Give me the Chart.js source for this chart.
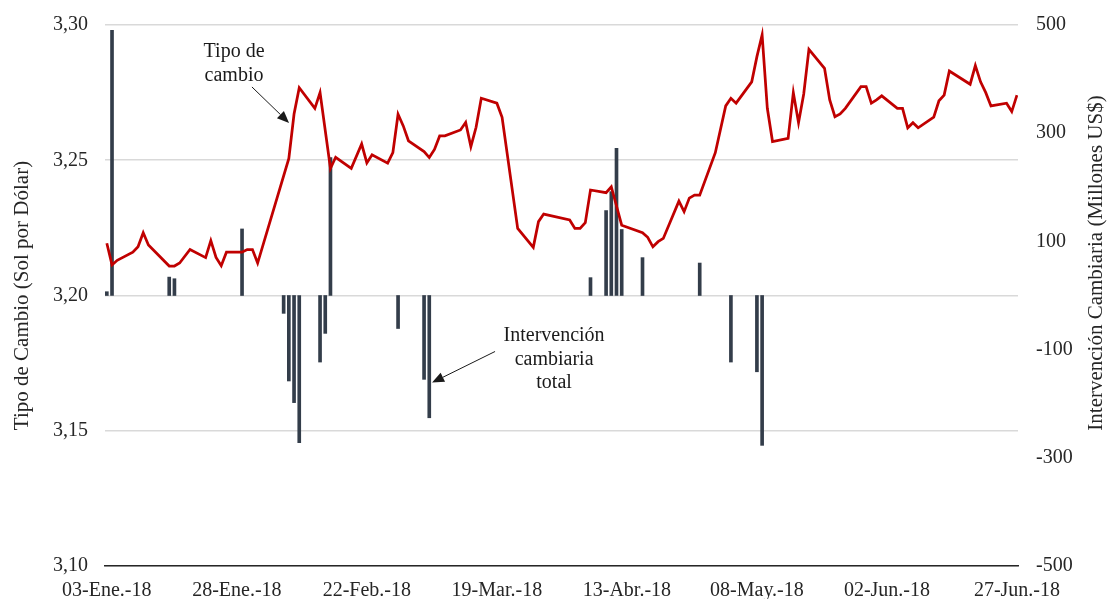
<!DOCTYPE html>
<html><head><meta charset="utf-8">
<script src="https://cdn.jsdelivr.net/npm/chart.js@4"></script>
<style>html,body{margin:0;padding:0;background:#fff}#wrap{width:1107px;height:599px;position:relative}</style>
</head><body><div id="wrap"><canvas id="c" width="1107" height="599"></canvas></div>
<script>
// --- Tipo de cambio (Sol por Dólar) ---
const fechasTC = ['2018-01-03','2018-01-04','2018-01-05','2018-01-08','2018-01-09','2018-01-10','2018-01-11','2018-01-15','2018-01-16','2018-01-17','2018-01-19','2018-01-22','2018-01-23','2018-01-24','2018-01-25','2018-01-26','2018-01-29','2018-01-30','2018-01-31','2018-02-01','2018-02-07','2018-02-08','2018-02-09','2018-02-12','2018-02-13','2018-02-15','2018-02-16','2018-02-19','2018-02-21','2018-02-22','2018-02-23','2018-02-26','2018-02-27','2018-02-28','2018-03-01','2018-03-02','2018-03-05','2018-03-06','2018-03-07','2018-03-08','2018-03-09','2018-03-12','2018-03-13','2018-03-14','2018-03-15','2018-03-16','2018-03-19','2018-03-20','2018-03-23','2018-03-26','2018-03-27','2018-03-28','2018-04-02','2018-04-03','2018-04-04','2018-04-05','2018-04-06','2018-04-09','2018-04-10','2018-04-12','2018-04-16','2018-04-17','2018-04-18','2018-04-19','2018-04-20','2018-04-23','2018-04-24','2018-04-25','2018-04-26','2018-04-27','2018-04-30','2018-05-02','2018-05-03','2018-05-04','2018-05-07','2018-05-08','2018-05-09','2018-05-10','2018-05-11','2018-05-14','2018-05-15','2018-05-16','2018-05-17','2018-05-18','2018-05-21','2018-05-22','2018-05-23','2018-05-24','2018-05-25','2018-05-28','2018-05-29','2018-05-30','2018-05-31','2018-06-01','2018-06-04','2018-06-05','2018-06-06','2018-06-07','2018-06-08','2018-06-11','2018-06-12','2018-06-13','2018-06-14','2018-06-18','2018-06-19','2018-06-20','2018-06-21','2018-06-22','2018-06-25','2018-06-26','2018-06-27'];
const tipoCambio = [3.2193,3.2113,3.2130,3.2160,3.2180,3.2232,3.2187,3.2109,3.2109,3.2120,3.2170,3.2140,3.2203,3.2141,3.2110,3.2160,3.2160,3.2170,3.2170,3.2120,3.2507,3.2671,3.2768,3.2692,3.2750,3.2470,3.2511,3.2470,3.2560,3.2490,3.2520,3.2489,3.2528,3.2670,3.2627,3.2572,3.2532,3.2510,3.2540,3.2590,3.2590,3.2612,3.2640,3.2550,3.2622,3.2729,3.2711,3.2659,3.2248,3.2178,3.2273,3.2301,3.2279,3.2248,3.2248,3.2269,3.2390,3.2380,3.2402,3.2260,3.2232,3.2215,3.2180,3.2199,3.2211,3.2349,3.2310,3.2360,3.2371,3.2371,3.2528,3.2701,3.2729,3.2711,3.2790,3.2883,3.2963,3.2692,3.2569,3.2581,3.2750,3.2639,3.2745,3.2910,3.2840,3.2723,3.2661,3.2671,3.2692,3.2772,3.2772,3.2711,3.2723,3.2738,3.2692,3.2692,3.2620,3.2639,3.2620,3.2659,3.2720,3.2741,3.2830,3.2781,3.2850,3.2790,3.2750,3.2701,3.2711,3.2680,3.2741];

// --- Intervención cambiaria total (Millones US$) ---
const fechasInt = ['2018-01-03','2018-01-04','2018-01-15','2018-01-16','2018-01-29','2018-02-06','2018-02-07','2018-02-08','2018-02-09','2018-02-13','2018-02-14','2018-02-15','2018-02-28','2018-03-05','2018-03-06','2018-04-06','2018-04-09','2018-04-10','2018-04-11','2018-04-12','2018-04-16','2018-04-27','2018-05-03','2018-05-08','2018-05-09'];
const intervencion = [7,490,34,31,123,-33,-158,-198,-272,-123,-70,255,-61,-155,-226,33,157,192,272,122,70,60,-123,-141,-277];

// --- Ejes ---
const fechasTicksX = ['2018-01-03','2018-01-28','2018-02-22','2018-03-19','2018-04-13','2018-05-08','2018-06-02','2018-06-27'];
const etiquetasX = ['03-Ene.-18','28-Ene.-18','22-Feb.-18','19-Mar.-18','13-Abr.-18','08-May.-18','02-Jun.-18','27-Jun.-18'];
const ticksIzq = [3.10,3.15,3.20,3.25,3.30];
const ticksDer = [-500,-300,-100,100,300,500];

const ORIGEN = Date.parse('2018-01-03');
const dia = s => (Date.parse(s) - ORIGEN) / 864e5;

const FONT = '"Liberation Serif", "Times New Roman", serif';
const TXT = '#262626';

const anot = {
  id: 'anot',
  afterDraw(chart) {
    const ctx = chart.ctx, xs = chart.scales.x, ys = chart.scales.y;
    const px = d => xs.getPixelForValue(d), py = v => ys.getPixelForValue(v);
    ctx.save();
    ctx.fillStyle = '#1a1a1a';
    ctx.font = '20px ' + FONT;
    ctx.textAlign = 'center';
    ctx.textBaseline = 'alphabetic';
    const t1x = px(24.46), t1y = py(3.2882);
    ctx.fillText('Tipo de', t1x, t1y);
    ctx.fillText('cambio', t1x, t1y + 24);
    const t2x = px(86.0), t2y = py(3.1832);
    ctx.fillText('Intervención', t2x, t2y);
    ctx.fillText('cambiaria', t2x, t2y + 24);
    ctx.fillText('total', t2x, t2y + 47);
    const flecha = (x1, y1, x2, y2) => {
      const a = Math.atan2(y2 - y1, x2 - x1), L = 12, W = 5;
      ctx.strokeStyle = '#1a1a1a'; ctx.lineWidth = 1;
      ctx.beginPath(); ctx.moveTo(x1, y1);
      ctx.lineTo(x2 - L * Math.cos(a), y2 - L * Math.sin(a)); ctx.stroke();
      ctx.beginPath();
      ctx.moveTo(x2, y2);
      ctx.lineTo(x2 - L * Math.cos(a) + W * Math.sin(a), y2 - L * Math.sin(a) - W * Math.cos(a));
      ctx.lineTo(x2 - L * Math.cos(a) - W * Math.sin(a), y2 - L * Math.sin(a) + W * Math.cos(a));
      ctx.closePath(); ctx.fill();
    };
    flecha(px(27.9), py(3.2771), px(35.04), py(3.2638));
    flecha(px(74.65), py(3.1793), px(62.54), py(3.1678));
    // títulos de ejes
    ctx.fillStyle = TXT;
    ctx.font = '21px ' + FONT;
    ctx.textBaseline = 'middle';
    const ca = chart.chartArea;
    ctx.save();
    ctx.translate(22, (ca.top + ca.bottom) / 2);
    ctx.rotate(-Math.PI / 2);
    ctx.fillText('Tipo de Cambio (Sol por Dólar)', 0, 0);
    ctx.restore();
    ctx.save();
    ctx.translate(1096, 263);
    ctx.rotate(-Math.PI / 2);
    ctx.fillText('Intervención Cambiaria (Millones US$)', 0, 0);
    ctx.restore();
    ctx.restore();
  }
};

new Chart(document.getElementById('c'), {
  type: 'bar',
  data: {
    datasets: [
      {
        type: 'line', label: 'Tipo de cambio', yAxisID: 'y', order: 0,
        data: fechasTC.map((f, i) => ({ x: dia(f), y: tipoCambio[i] })),
        borderColor: '#c00000', borderWidth: 2.75, pointRadius: 0, tension: 0, fill: false
      },
      {
        type: 'bar', label: 'Intervención cambiaria total', yAxisID: 'y2', order: 1,
        data: fechasInt.map((f, i) => ({ x: dia(f), y: intervencion[i] })),
        backgroundColor: '#333d4a', barThickness: 3, grouped: false, borderWidth: 0
      }
    ]
  },
  options: {
    responsive: false, animation: false, devicePixelRatio: 1,
    layout: { padding: { top: 25, left: 0, right: 0, bottom: 0 } },
    plugins: { legend: { display: false }, tooltip: { enabled: false } },
    scales: {
      x: {
        type: 'linear', min: -0.35, max: 175.2, offset: false,
        afterBuildTicks: s => { s.ticks = fechasTicksX.map(f => ({ value: dia(f) })); },
        afterFit: s => { s.height = 33; },
        ticks: {
          autoSkip: false, maxRotation: 0, padding: 13, color: TXT,
          font: { family: FONT, size: 20 },
          callback: (v) => { const i = fechasTicksX.findIndex(f => Math.abs(dia(f) - v) < 0.01); return i >= 0 ? etiquetasX[i] : ''; }
        },
        grid: { display: false, drawTicks: false },
        border: { display: true, color: '#262626', width: 1.5 }
      },
      y: {
        position: 'left', min: 3.10, max: 3.30,
        afterBuildTicks: s => { s.ticks = ticksIzq.map(v => ({ value: v })); },
        afterFit: s => { s.width = 105; s.paddingTop = 0; s.paddingBottom = 0; },
        ticks: {
          padding: 17, color: TXT, font: { family: FONT, size: 20 },
          callback: v => v.toFixed(2).replace('.', ',')
        },
        grid: { color: '#d9d9d9', lineWidth: 1.5, drawTicks: false },
        border: { display: false }
      },
      y2: {
        position: 'right', min: -500, max: 500,
        afterBuildTicks: s => { s.ticks = ticksDer.map(v => ({ value: v })); },
        afterFit: s => { s.width = 89; s.paddingTop = 0; s.paddingBottom = 0; },
        ticks: { padding: 18, color: TXT, font: { family: FONT, size: 20 } },
        grid: { display: false, drawTicks: false },
        border: { display: false }
      }
    }
  },
  plugins: [anot]
});
</script>
</body></html>
